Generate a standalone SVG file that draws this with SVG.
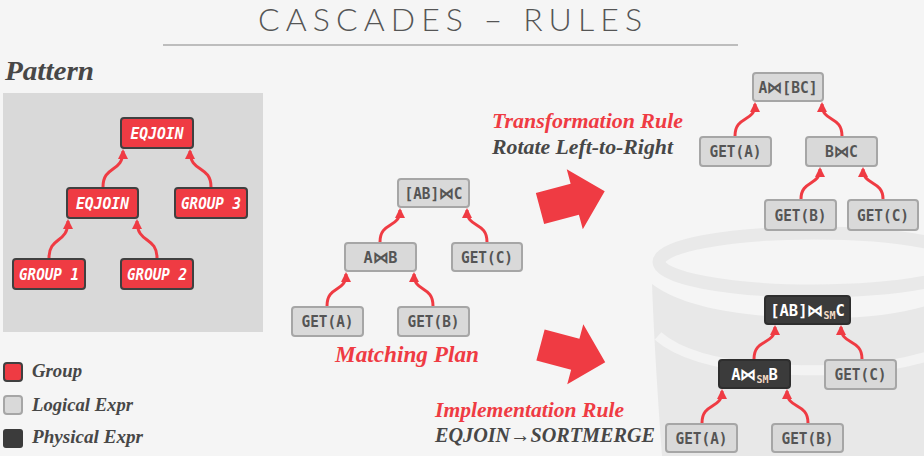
<svg xmlns="http://www.w3.org/2000/svg" width="924" height="456" viewBox="0 0 924 456">
<defs>
<style>
.bg{fill:#f5f5f5}
.logo{fill:#e8e8e8}
.grp rect{fill:#ef3b43;stroke:#404040;stroke-width:2}
.grp text{fill:#ffffff;font-family:"DejaVu Sans Mono",monospace;font-weight:bold;font-style:italic;font-size:15.5px;text-anchor:middle}
.log rect{fill:#d9d9d9;stroke:#a6a6a6;stroke-width:2}
.log text{fill:#555555;font-family:"DejaVu Sans Mono",monospace;font-weight:bold;font-size:15.5px;text-anchor:middle}
.phy rect{fill:#3b3b3b;stroke:#2e2e2e;stroke-width:2}
.phy text{fill:#ffffff;font-family:"DejaVu Sans Mono",monospace;font-weight:bold;font-size:15.5px;text-anchor:middle}
.sub{font-size:10px;fill:#f3dcc6}
.conn path{fill:none;stroke:#ef3b43;stroke-width:3}
.lbl{font-family:"Liberation Serif",serif;font-weight:bold;font-style:italic}
.red{fill:#ef3b43}
.dark{fill:#474747}
</style>
<marker id="ah" viewBox="0 0 10 10" refX="8" refY="5" markerWidth="10" markerHeight="10" markerUnits="userSpaceOnUse" orient="auto">
<path d="M0,0 L10,5 L0,10 z" fill="#ef3b43"/>
</marker>
</defs>
<rect class="bg" x="0" y="0" width="924" height="456"/>
<!-- faint background database logo -->
<g id="logo">
<path class="logo" d="M652,284 C690,312 760,318 830,318 C890,318 940,306 960,290 L960,456 L662,456 C658,400 654,340 652,284 Z"/>
<path d="M658,336 C690,364 760,372 840,370 C890,368 930,358 960,344" fill="none" stroke="#f3f3f3" stroke-width="10"/>
<ellipse cx="814" cy="262" rx="155" ry="29" fill="none" stroke="#e9e9e9" stroke-width="13"/>
</g>
<!-- title -->
<g id="title">
<text x="450" y="31" text-anchor="middle" font-family="Lato, 'Open Sans', sans-serif" font-weight="300" font-size="32" fill="#555555" textLength="384" lengthAdjust="spacing">CASCADES – RULES</text>
<line x1="163" y1="45" x2="738" y2="45" stroke="#bdbdbd" stroke-width="2"/>
</g>
<!-- pattern -->
<text class="lbl dark" x="5" y="80" font-size="27" textLength="89" lengthAdjust="spacingAndGlyphs">Pattern</text>
<rect x="3" y="93" width="260" height="239" fill="#d9d9d9"/>
<g id="p_eqjoin_top" class="grp"><rect x="121" y="118" width="72" height="30" rx="3"/><text x="157" y="139" textLength="53" lengthAdjust="spacingAndGlyphs">EQJOIN</text></g>
<g id="p_eqjoin_mid" class="grp"><rect x="67" y="188" width="71" height="30" rx="3"/><text x="102.5" y="209" textLength="53" lengthAdjust="spacingAndGlyphs">EQJOIN</text></g>
<g id="p_group3" class="grp"><rect x="175" y="188" width="72" height="30" rx="3"/><text x="211" y="209" textLength="60" lengthAdjust="spacingAndGlyphs">GROUP 3</text></g>
<g id="p_group1" class="grp"><rect x="13" y="259" width="72" height="30" rx="3"/><text x="49" y="280" textLength="60" lengthAdjust="spacingAndGlyphs">GROUP 1</text></g>
<g id="p_group2" class="grp"><rect x="121" y="259" width="72" height="30" rx="3"/><text x="157" y="280" textLength="60" lengthAdjust="spacingAndGlyphs">GROUP 2</text></g>
<!-- matching plan -->
<g id="m_root" class="log"><rect x="398" y="179" width="71" height="28" rx="3"/><text x="433.5" y="199" textLength="58" lengthAdjust="spacingAndGlyphs">[AB]⋈C</text></g>
<g id="m_ab" class="log"><rect x="345" y="243" width="71" height="28" rx="3"/><text x="380.5" y="263" textLength="34" lengthAdjust="spacingAndGlyphs">A⋈B</text></g>
<g id="m_getc" class="log"><rect x="452" y="243" width="70" height="28" rx="3"/><text x="487" y="263" textLength="52" lengthAdjust="spacingAndGlyphs">GET(C)</text></g>
<g id="m_geta" class="log"><rect x="292" y="307" width="71" height="29" rx="3"/><text x="327.5" y="327" textLength="52" lengthAdjust="spacingAndGlyphs">GET(A)</text></g>
<g id="m_getb" class="log"><rect x="398" y="307" width="71" height="29" rx="3"/><text x="433.5" y="327" textLength="52" lengthAdjust="spacingAndGlyphs">GET(B)</text></g>
<text class="lbl red" x="335" y="362" font-size="24" textLength="144" lengthAdjust="spacingAndGlyphs">Matching Plan</text>
<!-- transformation -->
<text class="lbl red" x="492" y="128" font-size="21" textLength="191" lengthAdjust="spacingAndGlyphs">Transformation Rule</text>
<text class="lbl dark" x="492" y="154" font-size="21" textLength="181" lengthAdjust="spacingAndGlyphs">Rotate Left-to-Right</text>
<g id="big_arrow_top"><polygon class="red" points="0,-16 36,-16 36,-31 67,0 36,31 36,16 0,16" transform="translate(540,208.5) rotate(-15)"/></g>
<g id="t_root" class="log"><rect x="753" y="73" width="70" height="28" rx="3"/><text x="788" y="93" textLength="59" lengthAdjust="spacingAndGlyphs">A⋈[BC]</text></g>
<g id="t_geta" class="log"><rect x="700" y="137" width="71" height="29" rx="3"/><text x="735.5" y="157" textLength="52" lengthAdjust="spacingAndGlyphs">GET(A)</text></g>
<g id="t_bc" class="log"><rect x="806" y="137" width="71" height="29" rx="3"/><text x="841.5" y="157" textLength="33" lengthAdjust="spacingAndGlyphs">B⋈C</text></g>
<g id="t_getb" class="log"><rect x="765" y="200" width="71" height="30" rx="3"/><text x="800.5" y="221" textLength="52" lengthAdjust="spacingAndGlyphs">GET(B)</text></g>
<g id="t_getc" class="log"><rect x="848" y="200" width="70" height="30" rx="3"/><text x="883" y="221" textLength="52" lengthAdjust="spacingAndGlyphs">GET(C)</text></g>
<!-- implementation -->
<g id="big_arrow_bottom"><polygon class="red" points="0,-16 36,-16 36,-31 67,0 36,31 36,16 0,16" transform="translate(540.5,345) rotate(15)"/></g>
<text class="lbl red" x="435" y="417" font-size="21" textLength="189" lengthAdjust="spacingAndGlyphs">Implementation Rule</text>
<text class="lbl dark" x="435" y="442" font-size="21" textLength="220" lengthAdjust="spacingAndGlyphs">EQJOIN→SORTMERGE</text>
<g id="i_root" class="phy"><rect x="765" y="296" width="85" height="28" rx="3"/><text x="807.5" y="316">[AB]⋈<tspan class="sub" dy="3">SM</tspan><tspan dy="-3">C</tspan></text></g>
<g id="i_ab" class="phy"><rect x="719" y="360" width="71" height="28" rx="3"/><text x="754.5" y="380">A⋈<tspan class="sub" dy="3">SM</tspan><tspan dy="-3">B</tspan></text></g>
<g id="i_getc" class="log"><rect x="825" y="360" width="71" height="29" rx="3"/><text x="860.5" y="380" textLength="52" lengthAdjust="spacingAndGlyphs">GET(C)</text></g>
<g id="i_geta" class="log"><rect x="666" y="424" width="71" height="28" rx="3"/><text x="701.5" y="444" textLength="52" lengthAdjust="spacingAndGlyphs">GET(A)</text></g>
<g id="i_getb" class="log"><rect x="772" y="424" width="71" height="28" rx="3"/><text x="807.5" y="444" textLength="52" lengthAdjust="spacingAndGlyphs">GET(B)</text></g>
<!-- connectors -->
<g id="connectors" class="conn">
<path marker-end="url(#ah)" d="M49,258 C49,236 68,244 68,221"/>
<path marker-end="url(#ah)" d="M157,258 C157,236 137,244 137,221"/>
<path marker-end="url(#ah)" d="M103,187 C103,165 123,173 123,151"/>
<path marker-end="url(#ah)" d="M211,187 C211,165 190,173 190,151"/>
<path marker-end="url(#ah)" d="M380,242 C380,221 400,229 400,210"/>
<path marker-end="url(#ah)" d="M487,242 C487,221 467,229 467,210"/>
<path marker-end="url(#ah)" d="M327,306 C327,285 346,293 346,274"/>
<path marker-end="url(#ah)" d="M433,306 C433,285 414,293 414,274"/>
<path marker-end="url(#ah)" d="M735,136 C735,115 755,123 755,104"/>
<path marker-end="url(#ah)" d="M842,136 C842,115 822,123 822,104"/>
<path marker-end="url(#ah)" d="M801,199 C801,180 820,186 820,169"/>
<path marker-end="url(#ah)" d="M883,199 C883,180 863,186 863,169"/>
<path marker-end="url(#ah)" d="M754,359 C754,338 775,346 775,327"/>
<path marker-end="url(#ah)" d="M862,359 C862,338 841,346 841,327"/>
<path marker-end="url(#ah)" d="M702,423 C702,402 722,410 722,391"/>
<path marker-end="url(#ah)" d="M808,423 C808,402 787,410 787,391"/>
</g>
<!-- legend -->
<g id="legend">
<rect x="4" y="363" width="18" height="18" rx="3" fill="#ef3b43" stroke="#404040" stroke-width="2"/>
<text class="lbl dark" x="32" y="377" font-size="18" textLength="50" lengthAdjust="spacingAndGlyphs">Group</text>
<rect x="4" y="396" width="18" height="18" rx="3" fill="#d9d9d9" stroke="#a6a6a6" stroke-width="2"/>
<text class="lbl dark" x="32" y="411" font-size="18" textLength="101" lengthAdjust="spacingAndGlyphs">Logical Expr</text>
<rect x="3" y="429" width="20" height="19" rx="3" fill="#3b3b3b"/>
<text class="lbl dark" x="32" y="443" font-size="18" textLength="111" lengthAdjust="spacingAndGlyphs">Physical Expr</text>
</g>
</svg>
